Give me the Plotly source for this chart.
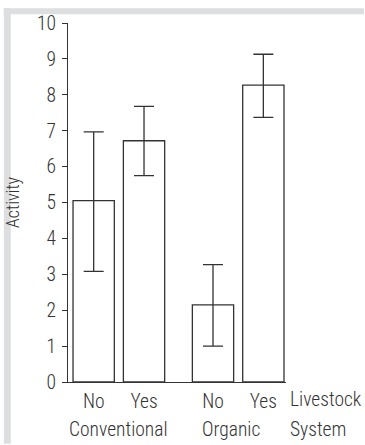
import plotly.graph_objects as go

# Mean activity per livestock system and livestock presence, with error ranges
systems = ["Conventional", "Organic"]
livestock = ["No", "Yes"]
activity = [[5.05, 6.72], [2.15, 8.27]]
err_low = [[3.08, 5.75], [1.0, 7.37]]
err_high = [[6.97, 7.68], [3.27, 9.13]]
y_ticks = list(range(0, 11))

INK = "#333333"
FONT = "Roboto Condensed, Roboto, sans-serif"
FS = 19.5
GROUP_STEP = 2.37  # distance between the first bars of the two systems

xs, ys, lo, hi, labels = [], [], [], [], []
for gi, sysname in enumerate(systems):
    for li, lv in enumerate(livestock):
        xs.append(gi * GROUP_STEP + li)
        ys.append(activity[gi][li])
        lo.append(activity[gi][li] - err_low[gi][li])
        hi.append(err_high[gi][li] - activity[gi][li])
        labels.append(lv)

fig = go.Figure()
fig.add_trace(go.Bar(
    x=xs, y=ys, width=0.82,
    marker=dict(color="white", line=dict(color=INK, width=1.3)),
    error_y=dict(type="data", symmetric=False, array=hi, arrayminus=lo,
                 color=INK, thickness=1.3, width=10),
    hoverinfo="skip",
))

def txt(size=FS):
    return dict(size=size, color=INK, family=FONT, weight=300)

# group names under each pair of bars, plus the axis caption on the right
group_shift = [0.5, 0.36]
annotations = []
for gi, sysname in enumerate(systems):
    annotations.append(dict(
        x=gi * GROUP_STEP + group_shift[gi], y=-0.131, xref="x", yref="paper",
        text=sysname, showarrow=False, xanchor="center", yanchor="middle",
        font=txt()))
annotations.append(dict(
    x=1.01, y=-0.049, xref="paper", yref="paper", text="Livestock",
    showarrow=False, xanchor="left", yanchor="middle", font=txt()))
annotations.append(dict(
    x=1.01, y=-0.131, xref="paper", yref="paper", text="System",
    showarrow=False, xanchor="left", yanchor="middle", font=txt()))

fig.update_layout(
    width=365, height=445,
    margin=dict(l=65, r=79, t=15, b=63),
    paper_bgcolor="white", plot_bgcolor="white",
    showlegend=False,
    font=dict(family=FONT, size=FS, color=INK),
    annotations=annotations,
    shapes=[
        dict(type="rect", xref="paper", yref="paper", x0=-65 / 221, x1=1 + 79 / 221,
             y0=1 + 9 / 367, y1=1 + 15 / 367, fillcolor="#dddee0", line_width=0, layer="below"),
        dict(type="rect", xref="paper", yref="paper", x0=-65 / 221, x1=-58 / 221,
             y0=-63 / 367, y1=1 + 15 / 367, fillcolor="#dddee0", line_width=0, layer="below"),
    ],
)
fig.update_xaxes(
    range=[-0.51, 3.82], tickvals=xs, ticktext=labels,
    showline=True, linecolor=INK, linewidth=1.3, ticks="", showgrid=False,
    zeroline=False, ticklabelstandoff=1, tickfont=txt(),
)
fig.update_yaxes(
    range=[0, 10], tickvals=y_ticks, showline=True, linecolor=INK, linewidth=1.3,
    ticks="outside", ticklen=5, tickwidth=1.2, tickcolor=INK, showgrid=False,
    zeroline=False, tickfont=txt(), ticklabelstandoff=2,
    title=dict(text="Activity", standoff=12, font=txt(FS - 1.5)),
)

fig.write_html("out.html")
